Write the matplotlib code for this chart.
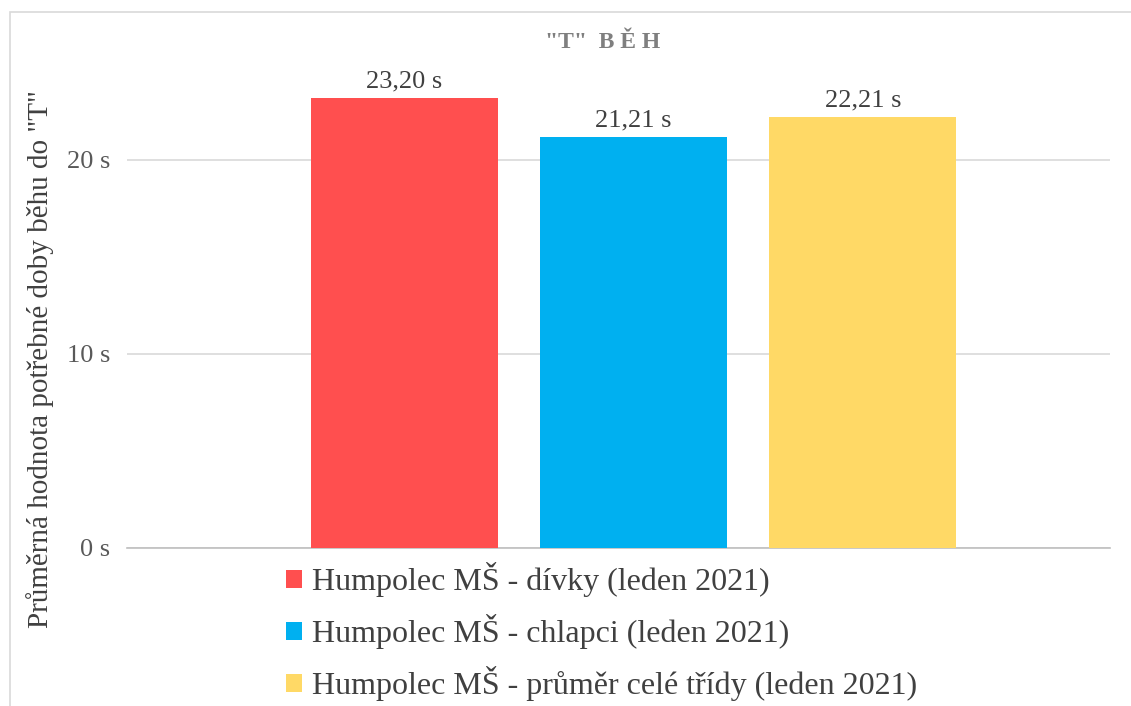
import matplotlib
matplotlib.use('Agg')
from matplotlib import pyplot as plt
from matplotlib.patches import Rectangle

series = ['Humpolec MŠ - dívky (leden 2021)',
          'Humpolec MŠ - chlapci (leden 2021)',
          'Humpolec MŠ - průměr celé třídy (leden 2021)']
values = [23.20, 21.21, 22.21]
colors = ['#FF4F4F', '#00B0F0', '#FFD966']
yticks = [0, 10, 20]

plt.rcParams['font.family'] = ['Liberation Serif', 'DejaVu Serif']

fig = plt.figure(figsize=(11.31, 7.06), dpi=100)
# light frame around the chart area
fig.patches.append(Rectangle((10 / 1131, -0.05), 1.2, 1 - 12 / 706 + 0.05,
                             transform=fig.transFigure, fill=False,
                             edgecolor='#D9D9D9', linewidth=1.2))

ax = fig.add_axes([127 / 1131, 1 - 548 / 706, (1110 - 127) / 1131, 485 / 706])
bars = []
for i, v in enumerate(values):
    b = ax.bar(i, v, width=0.815, color=colors[i], label=series[i], zorder=3)
    bars.append(b)
    ax.bar_label(b, labels=[('%.2f s' % v).replace('.', ',')], padding=4,
                 fontsize=19, color='#404040')

ax.set_xlim(-1.209, 3.078)
ax.set_ylim(0, 25)
ax.set_yticks(yticks)
ax.set_yticklabels(['%d s' % t for t in yticks], fontsize=19, color='#595959')
ax.set_xticks([])
ax.tick_params(axis='y', length=0, pad=12)
ax.grid(axis='y', color='#D9D9D9', linewidth=1.2, zorder=0)
for s in ['top', 'right', 'left']:
    ax.spines[s].set_visible(False)
ax.spines['bottom'].set_color('#BFBFBF')
ax.spines['bottom'].set_linewidth(1.2)

ax.set_ylabel('Průměrná hodnota potřebné doby běhu do "T"', fontsize=21,
              color='#404040')
ax.yaxis.set_label_coords(-0.0745, 0.39)

fig.text(603 / 1131, 1 - 42 / 706, '"T"  B Ě H', ha='center', va='center',
         fontsize=17, fontweight='bold', color='#7F7F7F')

fig.legend(handles=[b[0] for b in bars], labels=series, loc='upper left',
           bbox_to_anchor=(280 / 1131, 1 - 556 / 706), frameon=False,
           fontsize=23, handlelength=0.5, handleheight=0.5,
           handletextpad=0.3, labelspacing=0.53, labelcolor='#404040',
           borderaxespad=0, borderpad=0.2)

fig.savefig('out.png', dpi=100)
